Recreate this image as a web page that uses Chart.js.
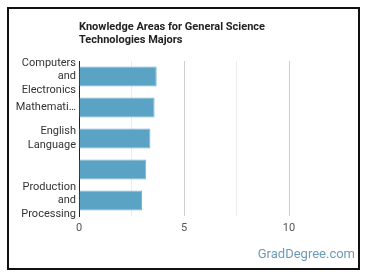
<!DOCTYPE html>
<html>
<head>
<meta charset="utf-8">
<script src="https://cdn.jsdelivr.net/npm/chart.js@4/dist/chart.umd.min.js"></script>
<style>
html,body{margin:0;padding:0;background:#fff;}
#wrap{position:relative;width:370px;height:278px;}
canvas{display:block;}
</style>
</head>
<body>
<div id="wrap"><canvas id="c" width="370" height="278"></canvas></div>
<script>
const categories = [["Computers","and","Electronics"], "Mathemati…", ["English","Language"], "", ["Production","and","Processing"]];
const values = [3.7, 3.6, 3.4, 3.2, 3.0];
const xTicks = [0, 2.5, 5, 7.5, 10];
const xLabels = ["0", "", "5", "", "10"];
const titleLines = ["Knowledge Areas for General Science", "Technologies Majors"];
const watermark = "GradDegree.com";

const framePlugin = {
  id: 'frame',
  afterDraw(chart) {
    const ctx = chart.ctx;
    ctx.save();
    ctx.strokeStyle = '#111';
    ctx.lineWidth = 2;
    ctx.strokeRect(8, 8, 351, 261);
    ctx.fillStyle = '#6b9bb8';
    ctx.font = '13px Roboto, "Open Sans", sans-serif';
    ctx.textAlign = 'right';
    ctx.textBaseline = 'alphabetic';
    ctx.fillText(watermark, 355, 258);
    ctx.restore();
  }
};

new Chart(document.getElementById('c'), {
  type: 'bar',
  data: {
    labels: categories,
    datasets: [{
      data: values,
      backgroundColor: '#5ba3c4',
      borderColor: '#78b5d1',
      borderWidth: 1,
      categoryPercentage: 1,
      barPercentage: 0.645
    }]
  },
  options: {
    indexAxis: 'y',
    responsive: false,
    animation: false,
    devicePixelRatio: 1,
    layout: { padding: { left: 0, right: 39, top: 0, bottom: 0 } },
    plugins: {
      legend: { display: false },
      tooltip: { enabled: false },
      title: {
        display: true,
        text: titleLines,
        align: 'start',
        fullSize: false,
        color: '#222',
        font: { family: 'Roboto, "Open Sans", sans-serif', size: 11, weight: 'bold', lineHeight: 1.25 },
        padding: { top: 20, bottom: 13.5 }
      }
    },
    scales: {
      x: {
        min: 0,
        max: 12,
        afterBuildTicks(s) { s.ticks = xTicks.map(v => ({ value: v })); },
        afterFit(s) { s.height = 62; },
        grid: {
          drawTicks: false,
          color: ctx => (ctx.tick && ctx.tick.value % 5 === 0) ? '#cfcfcf' : '#ececec',
          lineWidth: 1
        },
        border: { display: false },
        ticks: {
          padding: 6,
          color: '#555',
          font: { family: 'Roboto, "Open Sans", sans-serif', size: 11 },
          callback: (v, i) => xLabels[i]
        }
      },
      y: {
        afterFit(s) { s.width = 79; },
        grid: { display: false, drawTicks: false },
        border: { display: true, color: '#222', width: 1 },
        ticks: {
          autoSkip: false,
          padding: 3,
          color: '#333',
          font: { family: 'Roboto, "Open Sans", sans-serif', size: 11, lineHeight: 1.25 }
        }
      }
    }
  },
  plugins: [framePlugin]
});
</script>
</body>
</html>
